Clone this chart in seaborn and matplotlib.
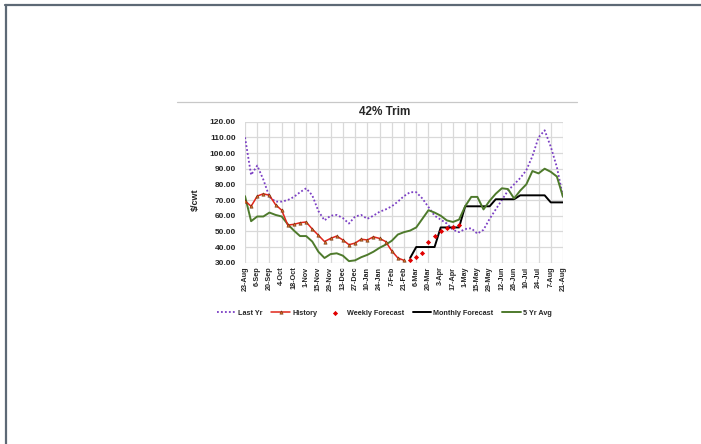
import numpy as np
import pandas as pd
import matplotlib
matplotlib.use("Agg")
import matplotlib.pyplot as plt
from matplotlib.lines import Line2D
import seaborn as sns

# Week-of-year tick labels (every second week is labelled)
tick_labels = ["23-Aug", "6-Sep", "20-Sep", "4-Oct", "18-Oct", "1-Nov", "15-Nov",
               "29-Nov", "13-Dec", "27-Dec", "10-Jan", "24-Jan", "7-Feb", "21-Feb",
               "6-Mar", "20-Mar", "3-Apr", "17-Apr", "1-May", "15-May", "29-May",
               "12-Jun", "26-Jun", "10-Jul", "24-Jul", "7-Aug", "21-Aug"]

# Weekly prices, $/cwt (53 weeks)
last_yr = [110, 86, 92, 83, 72, 69, 69, 70, 72, 75, 77.5, 73, 63, 57, 60, 60.5,
           58.5, 55, 59.5, 60.5, 58, 60, 62.5, 64, 66, 69, 72.5, 75, 75, 71, 65.5,
           60, 57.5, 55, 51, 49.5, 51.5, 52, 48.5, 51, 58, 64, 70, 76, 80, 84, 89,
           98, 110, 114.5, 104, 91, 72]

history = [69.5, 66, 72.5, 74, 73, 67, 63.5, 54, 54.5, 55.5, 56, 51.5, 47.5, 43.5,
           45.5, 47, 44.5, 41.5, 42.5, 45, 44.5, 46.5, 45.5, 43.5, 37.5, 33, 31.5]

weekly_start = 27
weekly_forecast = [32, 33.5, 36.5, 43, 47, 50, 52, 52.5, 54]

monthly_start = 27
monthly_forecast = [33, 40, 40, 40, 40, 52.5, 52.5, 52.5, 52.5, 66, 66, 66, 66, 66,
                    70.5, 70.5, 70.5, 70.5, 73, 73, 73, 73, 73, 68.5, 68.5, 68.5]

five_yr_avg = [72.5, 56.5, 59.5, 59.5, 62, 60.5, 59.5, 54.5, 50.5, 47, 47, 43.5, 37,
               33, 35.5, 36, 34.5, 31, 31.5, 33.5, 35, 37, 39.5, 41.5, 44, 48, 49.5,
               50.5, 52.5, 58, 63.5, 62, 60, 57, 56, 57.5, 66, 72, 72, 64, 69.5, 74,
               77.5, 77, 71, 76, 80, 88.5, 87, 90, 88, 85, 72]

df_last = pd.DataFrame({"week": np.arange(len(last_yr)), "price": last_yr})
df_hist = pd.DataFrame({"week": np.arange(len(history)), "price": history})
df_week = pd.DataFrame({"week": np.arange(weekly_start, weekly_start + len(weekly_forecast)),
                        "price": weekly_forecast})
df_month = pd.DataFrame({"week": np.arange(monthly_start, monthly_start + len(monthly_forecast)),
                         "price": monthly_forecast})
df_avg = pd.DataFrame({"week": np.arange(len(five_yr_avg)), "price": five_yr_avg})

sns.set_style("white")
plt.rcParams["font.family"] = ["Liberation Sans", "DejaVu Sans"]
plt.rcParams["font.weight"] = "bold"

W, H = 701, 444
fig = plt.figure(figsize=(W / 100, H / 100), dpi=100)
fig.patch.set_facecolor("white")

def fx(px):
    return px / W

def fy(py):
    return 1 - py / H

ax = fig.add_axes([fx(245), fy(262.7), fx(563) - fx(245), fy(121.7) - fy(262.7)])

purple = "#7b3fc4"
red = "#e0261a"
green = "#4e7a2c"

sns.lineplot(data=df_last, x="week", y="price", ax=ax, color=purple, lw=1.3,
             linestyle=(0, (1, 1.2)), label="Last Yr", zorder=3)
sns.lineplot(data=df_hist, x="week", y="price", ax=ax, color=red, lw=1.1,
             marker="^", markersize=2.4, markerfacecolor="#d86a20",
             markeredgecolor="#6a3010", markeredgewidth=0.4, label="History", zorder=5)
sns.scatterplot(data=df_week, x="week", y="price", ax=ax, color="#e00000",
                marker="D", s=7, linewidth=0, label="Weekly Forecast", zorder=6)
sns.lineplot(data=df_month, x="week", y="price", ax=ax, color="black", lw=1.4,
             label="Monthly Forecast", zorder=4)
sns.lineplot(data=df_avg, x="week", y="price", ax=ax, color=green, lw=1.4,
             label="5 Yr Avg", zorder=4)

ax.set_xlim(0, 52)
ax.set_ylim(30, 120)
ax.set_xticks(np.arange(0, 53, 2))
ax.set_xticklabels(tick_labels, rotation=90, fontsize=5.2, fontweight="bold")
ax.set_yticks(np.arange(30, 121, 10))
ax.set_yticklabels([f"{v:.2f}" for v in np.arange(30, 121, 10)], fontsize=6.0,
                   fontweight="bold")
ax.tick_params(axis="x", length=0, pad=2.8)
ax.tick_params(axis="y", length=0, pad=6.5)
ax.grid(True, color="#d9d9d9", lw=0.9)
ax.set_axisbelow(True)
for s in ax.spines.values():
    s.set_visible(False)
ax.set_xlabel("")
ax.set_ylabel("")

handles, labels = ax.get_legend_handles_labels()
ax.legend_.remove()
fig.legend(handles, labels, loc="center", bbox_to_anchor=(fx(384.5), fy(313)), ncol=5,
           frameon=False, handlelength=2.6, handletextpad=0.3,
           columnspacing=1.2, prop={"weight": "bold", "size": 5.2})

fig.text(fx(385), fy(112), "42% Trim", ha="center", va="center", fontsize=8.5,
         fontweight="bold")
fig.text(fx(195), fy(200), "$/cwt", ha="center", va="center", rotation=90,
         fontsize=6.5, fontweight="bold")

# Page frame and chart-area top rule
fig.add_artist(Line2D([fx(5), 1], [fy(5), fy(5)], color="#5d6975", lw=1.6))
fig.add_artist(Line2D([fx(6), fx(6)], [0, fy(5)], color="#5d6975", lw=1.6))
fig.add_artist(Line2D([fx(177), fx(577)], [fy(101.7), fy(101.7)], color="#c8c8c8", lw=0.9))

fig.savefig("out.png", dpi=100)
